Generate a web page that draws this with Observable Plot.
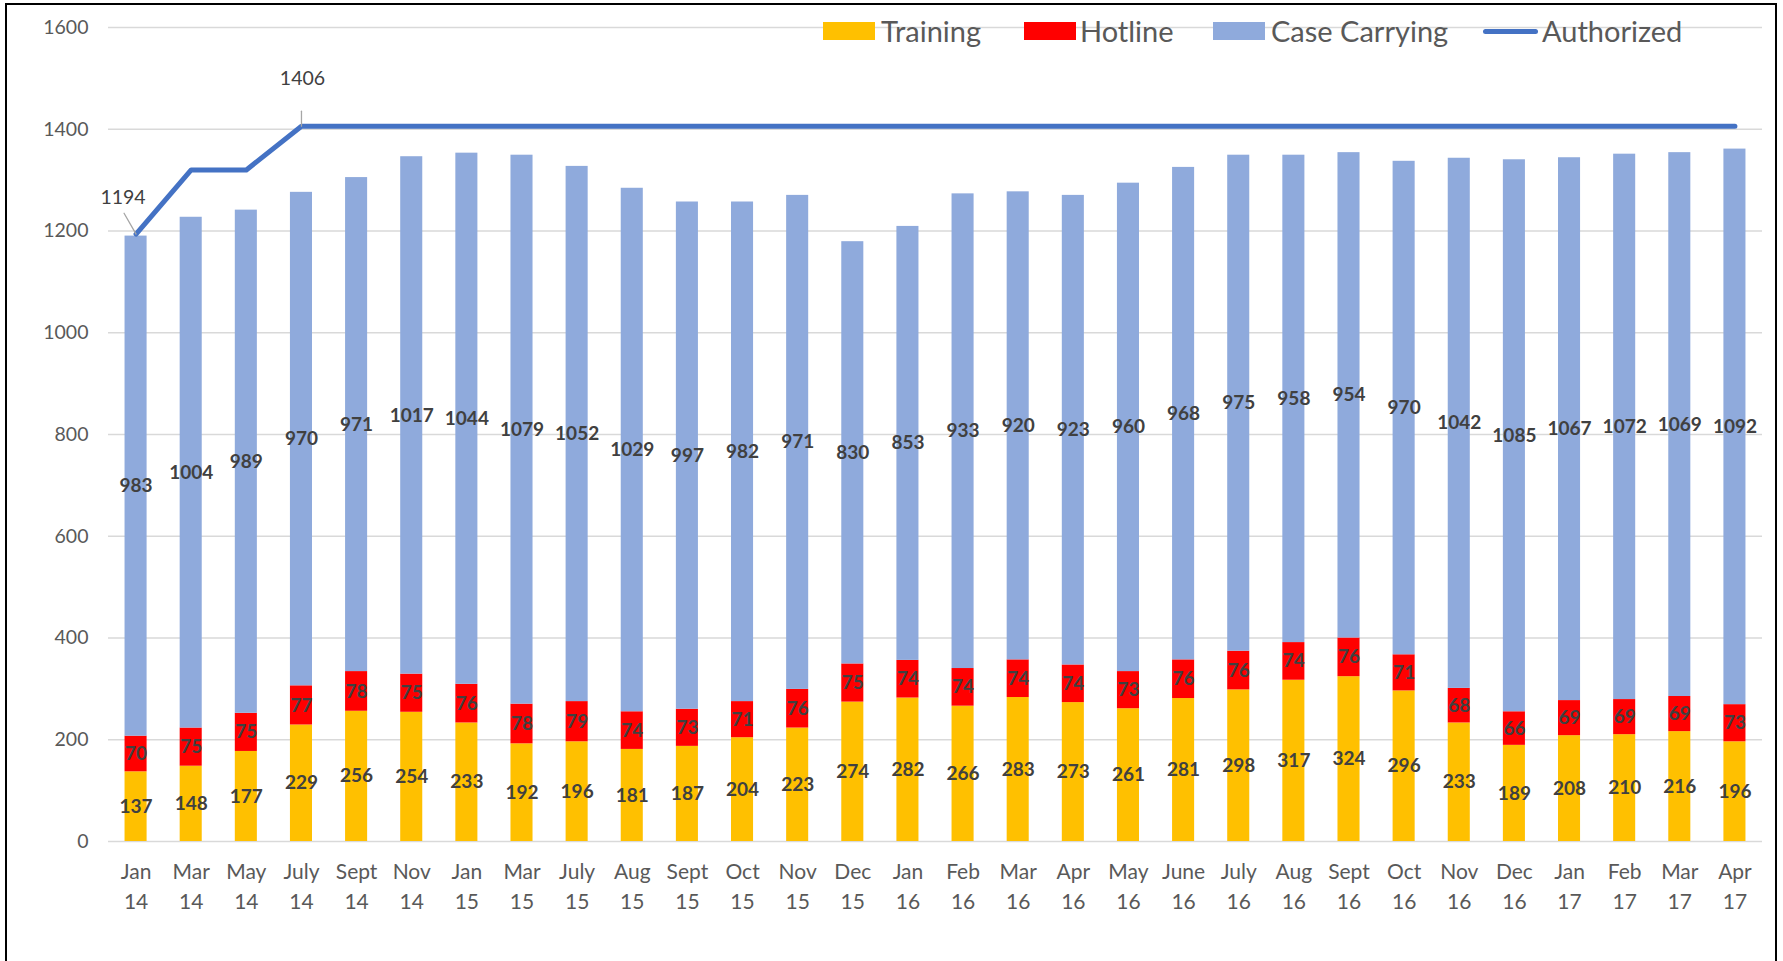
<!DOCTYPE html>
<html>
<head>
<meta charset="utf-8">
<script src="https://cdn.jsdelivr.net/npm/d3@7"></script>
<script src="https://cdn.jsdelivr.net/npm/@observablehq/plot@0.6"></script>
<style>
  html, body { margin: 0; padding: 0; background: #fff; overflow: hidden; width: 1783px; height: 961px; }
  #chart { position: absolute; left: 0; top: 0; }
  #frame { position: absolute; left: 5px; top: 3px; width: 1768px; height: 1100px; border: 2.5px solid #000; pointer-events: none; }
  #legend { position: absolute; left: 0; top: 0; width: 1783px; height: 60px; font-family: Lato, "Open Sans", sans-serif; color: #595959; font-size: 29px; }
  #legend .sw { position: absolute; top: 22px; height: 18px; width: 52px; }
  #legend .ln { position: absolute; top: 28.5px; height: 5px; width: 55px; border-radius: 3px; }
  #legend .tx { position: absolute; top: 16px; line-height: 1; white-space: nowrap; }
</style>
</head>
<body>
<div id="chart"></div>
<div id="legend"></div>
<div id="frame"></div>
<script>
const months = ["Jan\n14","Mar\n14","May\n14","July\n14","Sept\n14","Nov\n14","Jan\n15","Mar\n15","July\n15","Aug\n15","Sept\n15","Oct\n15","Nov\n15","Dec\n15","Jan\n16","Feb\n16","Mar\n16","Apr\n16","May\n16","June\n16","July\n16","Aug\n16","Sept\n16","Oct\n16","Nov\n16","Dec\n16","Jan\n17","Feb\n17","Mar\n17","Apr\n17"];
const training = [137,148,177,229,256,254,233,192,196,181,187,204,223,274,282,266,283,273,261,281,298,317,324,296,233,189,208,210,216,196];
const hotline = [70,75,75,77,78,75,76,78,79,74,73,71,76,75,74,74,74,74,73,76,76,74,76,71,68,66,69,69,69,73];
const caseCarrying = [983,1004,989,970,971,1017,1044,1079,1052,1029,997,982,971,830,853,933,920,923,960,968,975,958,954,970,1042,1085,1067,1072,1069,1092];
const authorized = [1194,1320,1320,1406,1406,1406,1406,1406,1406,1406,1406,1406,1406,1406,1406,1406,1406,1406,1406,1406,1406,1406,1406,1406,1406,1406,1406,1406,1406,1406];
const seriesNames = ["Training","Hotline","Case Carrying"];
const seriesColors = ["#FFC000","#FF0000","#8FAADC"];
const lineName = "Authorized";
const lineColor = "#4472C4";
const yTicks = [0,200,400,600,800,1000,1200,1400,1600];
const annotated = ["Jan\n14","July\n14"];

// stacked table built from the arrays
const rows = months.flatMap((m, i) => {
  const vals = [training[i], hotline[i], caseCarrying[i]];
  let base = 0;
  return vals.map((v, k) => {
    const r = {month: m, series: seriesNames[k], value: v, y1: base, y2: base + v, mid: base + v / 2};
    base += v;
    return r;
  });
});
const authRows = months.map((m, i) => ({month: m, value: authorized[i]}));
const annRows = authRows.filter(d => annotated.includes(d.month));

const leader = {draw(ctx, l) { ctx.moveTo(0, 0); ctx.lineTo(0, -l); }};

const chart = Plot.plot({
  width: 1783,
  height: 961,
  marginLeft: 108,
  marginRight: 21,
  marginTop: 27,
  marginBottom: 120,
  style: {background: "transparent", fontFamily: "Lato, 'Open Sans', sans-serif", color: "#595959"},
  x: {domain: months, paddingInner: 0.6, paddingOuter: 0.3, round: false, label: null},
  y: {domain: [0, 1600], label: null},
  color: {domain: seriesNames, range: seriesColors},
  marks: [
    Plot.gridY(yTicks, {stroke: "#D9D9D9", strokeOpacity: 1, strokeWidth: 1.3}),
    Plot.barY(rows, {x: "month", y1: "y1", y2: "y2", fill: "series"}),
    Plot.text(rows, {x: "month", y: "mid", text: d => String(d.value), fontWeight: "bold", fontSize: 19, fill: "#404040"}),
    Plot.line(authRows, {x: "month", y: "value", stroke: lineColor, strokeWidth: 5}),
    Plot.vector(annRows.slice(0, 1), {x: "month", y: "value", length: 24, rotate: -30, anchor: "start", shape: leader, stroke: "#A6A6A6", strokeWidth: 1.3}),
    Plot.vector(annRows.slice(1, 2), {x: "month", y: "value", length: 15, rotate: 0, anchor: "start", shape: leader, stroke: "#A6A6A6", strokeWidth: 1.3}),
    Plot.text(annRows.slice(0, 1), {x: "month", y: "value", text: d => String(d.value), dx: -13, dy: -36, fontSize: 19.5, fill: "#404040"}),
    Plot.text(annRows.slice(1, 2), {x: "month", y: "value", text: d => String(d.value), dx: 1, dy: -47, fontSize: 19.5, fill: "#404040"}),
    Plot.axisY(yTicks, {tickSize: 0, tickPadding: 20, fontSize: 19.5, fill: "#595959", label: null, tickFormat: d => String(d)}),
    Plot.axisX({tickSize: 0, tickPadding: 17, fontSize: 21, lineHeight: 1.4, fill: "#595959", label: null})
  ]
});
document.getElementById("chart").appendChild(chart);

// legend
const legend = document.getElementById("legend");
const items = [
  {name: seriesNames[0], color: seriesColors[0], type: "sw", sx: 823, tx: 881},
  {name: seriesNames[1], color: seriesColors[1], type: "sw", sx: 1024, tx: 1080},
  {name: seriesNames[2], color: seriesColors[2], type: "sw", sx: 1213, tx: 1271},
  {name: lineName, color: lineColor, type: "ln", sx: 1483, tx: 1542}
];
for (const it of items) {
  const s = document.createElement("div");
  s.className = it.type;
  s.style.left = it.sx + "px";
  s.style.background = it.color;
  legend.appendChild(s);
  const t = document.createElement("div");
  t.className = "tx";
  t.style.left = it.tx + "px";
  t.textContent = it.name;
  legend.appendChild(t);
}
</script>
</body>
</html>
